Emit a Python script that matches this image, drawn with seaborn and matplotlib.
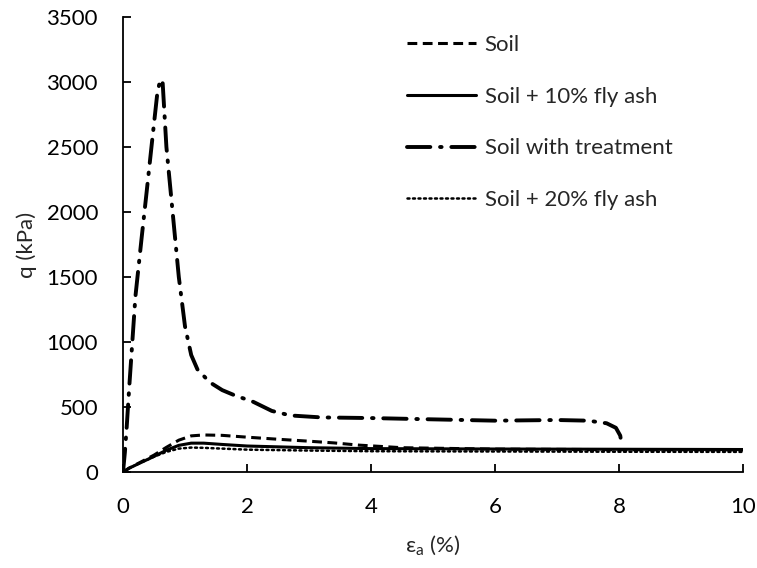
import matplotlib
matplotlib.use("Agg")
import matplotlib.pyplot as plt
import seaborn as sns

# Data (axial strain %, deviator stress q kPa)
soil_x = [0, 0.1, 0.3, 0.5, 0.7, 0.9, 1.1, 1.3, 1.6, 2.0, 2.5, 3.0, 3.4, 3.8, 4.5, 6, 8, 10]
soil_y = [0, 30, 80, 130, 190, 245, 278, 285, 282, 268, 252, 237, 224, 207, 187, 176, 172, 170]

fa10_x = [0, 0.1, 0.3, 0.5, 0.7, 0.9, 1.1, 1.3, 1.6, 2.0, 3.0, 4.0, 6.0, 8.0, 10.0]
fa10_y = [0, 30, 75, 120, 168, 205, 222, 222, 212, 200, 187, 180, 177, 175, 173]

treat_x = [0, 0.03, 0.06, 0.1, 0.15, 0.2, 0.3, 0.38, 0.47, 0.55, 0.6, 0.64, 0.7, 0.8, 0.9, 1.0, 1.1, 1.2, 1.4, 1.6, 1.8, 2.1, 2.4, 2.7, 3.2, 4.0, 5.0, 6.0, 7.0, 7.5, 7.8, 7.95, 8.02, 8.05]
treat_y = [0, 150, 350, 650, 1000, 1350, 1800, 2150, 2550, 2900, 3020, 2990, 2500, 2000, 1500, 1120, 900, 790, 690, 630, 590, 540, 470, 435, 420, 415, 405, 395, 400, 395, 375, 340, 280, 190]

fa20_x = [0, 0.1, 0.3, 0.5, 0.7, 0.9, 1.1, 1.3, 1.6, 2.0, 3.0, 4.0, 6.0, 8.0, 10.0]
fa20_y = [0, 30, 75, 118, 155, 180, 188, 186, 180, 172, 165, 160, 158, 156, 155]

xticks = [0, 2, 4, 6, 8, 10]
yticks = [0, 500, 1000, 1500, 2000, 2500, 3000, 3500]

sns.set_style("white")
plt.rcParams['font.family'] = ['Lato', 'DejaVu Sans']
plt.rcParams['mathtext.fontset'] = 'custom'
plt.rcParams['mathtext.rm'] = 'Lato'

fig = plt.figure(figsize=(7.57, 5.68), dpi=100)
ax = fig.add_axes([0.1625, 0.169, 0.819, 0.801])

sns.lineplot(x=soil_x, y=soil_y, ax=ax, color='black', lw=2.2,
             linestyle=(0, (3.2, 1.8)), sort=False, label='Soil')
sns.lineplot(x=fa10_x, y=fa10_y, ax=ax, color='black', lw=2.2,
             linestyle='-', sort=False, label='Soil + 10% fly ash')
sns.lineplot(x=treat_x, y=treat_y, ax=ax, color='black', lw=2.8,
             linestyle=(0, (6, 2.5, 0.4, 2.5)), sort=False, label='Soil with treatment',
             solid_capstyle='round', dash_capstyle='round')
sns.lineplot(x=fa20_x, y=fa20_y, ax=ax, color='black', lw=1.8,
             linestyle=(0, (0.8, 1.4)), sort=False, label='Soil + 20% fly ash',
             dash_capstyle='round')

ax.set_xlim(0, 10)
ax.set_ylim(0, 3500)
ax.set_xticks(xticks)
ax.set_yticks(yticks)
ax.set_xticklabels([str(v) for v in xticks])
ax.set_yticklabels([str(v) for v in yticks])
ax.tick_params(direction='in', length=6, width=1.3, labelsize=16, pad=18,
               left=True, bottom=True, colors='black')

for s in ['top', 'right']:
    ax.spines[s].set_visible(False)
for s in ['left', 'bottom']:
    ax.spines[s].set_color('black')
    ax.spines[s].set_linewidth(1.3)

ax.set_xlabel(r'ε$_\mathregular{a}$ (%)', fontsize=16, labelpad=12)
ax.set_ylabel('q (kPa)', fontsize=16, labelpad=7)

leg = ax.legend(loc='upper left', bbox_to_anchor=(0.458, 0.96), frameon=False,
                borderaxespad=0, borderpad=0,
                fontsize=16, handlelength=3.1, handletextpad=0.4, labelspacing=1.42)

fig.savefig('out.png', dpi=100)
